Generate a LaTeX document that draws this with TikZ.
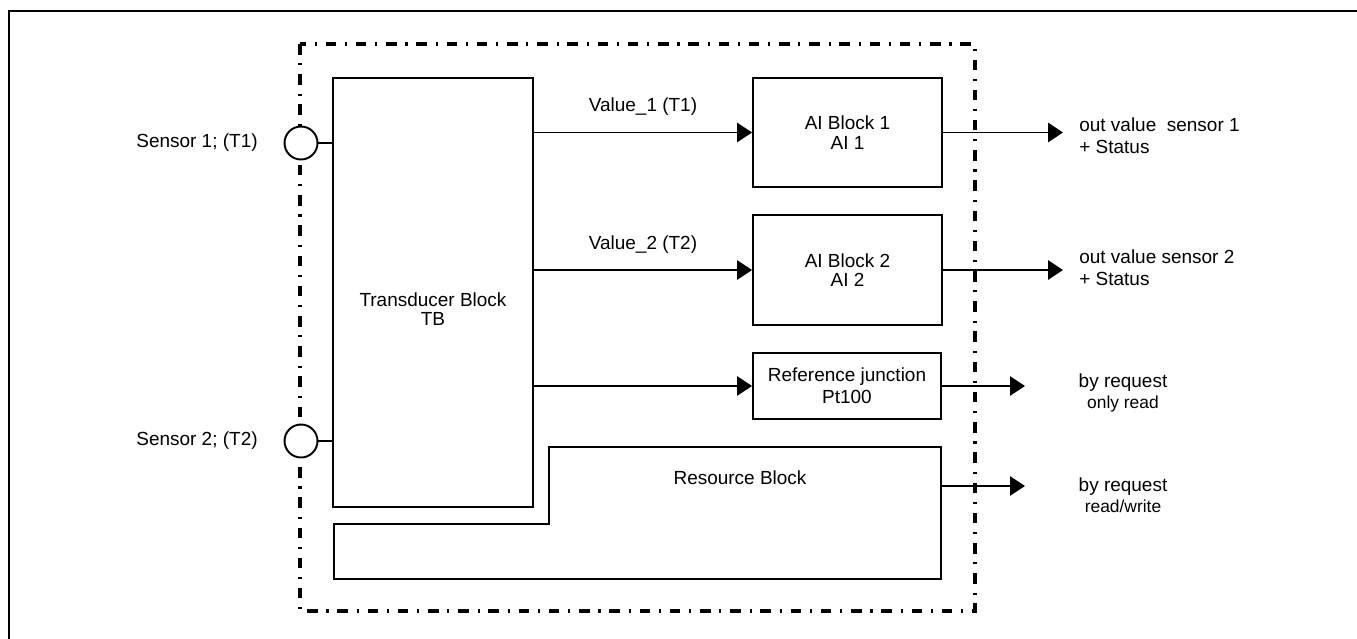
\documentclass[tikz,border=0pt]{standalone}
\usepackage{fontspec}
\setmainfont{Liberation Sans}
\usetikzlibrary{arrows.meta, positioning}

\tikzset{
  block/.style={draw, line width=1.1pt, minimum width=3.78cm, align=center, inner sep=0pt},
  sig/.style={line width=0.9pt, -{Triangle[length=8.5pt,width=11pt]}},
  req/.style={line width=0.6pt, -{Triangle[length=8.5pt,width=11pt]}},
  sensor/.style={draw, circle, fill=white, line width=1.1pt, minimum size=0.66cm, inner sep=0pt},
  housing/.style={line width=1.8pt, dash pattern=on 6pt off 5pt on 1.2pt off 5pt},
  txt/.style={font=\fontsize{10.8}{11}\selectfont, align=center, inner sep=0pt},
  smalltxt/.style={font=\fontsize{9.9}{11}\selectfont}
}

\begin{document}
\begin{tikzpicture}[x=0.02cm, y=-0.02cm]
	\useasboundingbox (0,0) rectangle (1357,639);
	% page frame (top and left only)
	\draw[line width=1.2pt] (1357,11) -- (9,11) -- (9,639);
	% device housing
	\draw[housing] (300,44) rectangle (975,611);

	\node[sensor] (s1) at (301,143) {};
	\node[sensor] (s2) at (301,441) {};
	\node[txt, anchor=east] (s1lbl) at (258,143) {Sensor 1; (T1)};
	\node[txt, anchor=east] (s2lbl) at (258,441) {Sensor 2; (T2)};

	\node[draw, line width=1.1pt, minimum width=4cm, minimum height=8.58cm] (tb) at (433,292.5) {};
	\node[txt, font=\fontsize{10.8}{10.4}\selectfont] (tblbl) at (433,309) {Transducer Block\\TB};

	\node[block, txt, minimum height=2.18cm] (ai1) at (847.5,132.5) {AI Block 1\\AI 1};
	\node[block, txt, minimum height=2.2cm] (ai2) at (847.5,270) {AI Block 2\\AI 2};
	\node[block, txt, minimum width=3.76cm, minimum height=1.32cm, font=\fontsize{10.8}{12.5}\selectfont] (ref) at (847,386) {Reference junction\\Pt100};

	% resource block
	\draw[line width=1.1pt] (334,579) -- (334,524) -- (549,524) -- (549,447) -- (941,447) -- (941,579) -- cycle;
	\node[txt] (res) at (740,478) {Resource Block};

	\draw[line width=0.7pt] (s1.east) -- (s1.east -| tb.west);
	\draw[line width=0.7pt] (s2.east) -- (s2.east -| tb.west);

	\draw[sig] (tb.east |- ai1.west) -- node[txt, above=9pt] (v1) {Value\_1 (T1)} (ai1.west);
	\draw[sig] (tb.east |- ai2.west) -- node[txt, above=9pt] (v2) {Value\_2 (T2)} (ai2.west);
	\draw[sig] (tb.east |- ref.west) -- (ref.west);

	\coordinate (ai1out) at (1063,132.5);
	\coordinate (ai2out) at (1063,270);
	\coordinate (refout) at (1025,386);
	\coordinate (resE) at (941,486);
	\coordinate (resout) at (1025,486);

	\draw[sig, line width=1.1pt] (ai1.east) -- (ai1out);
	\draw[sig, line width=1.1pt] (ai2.east) -- (ai2out);
	\draw[req] (ref.east) -- (refout);
	\draw[req] (resE) -- (resout);

	\node[txt, align=left, anchor=west, font=\fontsize{10.8}{12.5}\selectfont] (o1) at (1079,136) {out value~ sensor 1\\+ Status};
	\node[txt, align=left, anchor=west, font=\fontsize{10.8}{12.5}\selectfont] (o2) at (1079,268) {out value sensor 2\\+ Status};
	\node[txt, font=\fontsize{10.8}{12}\selectfont] (r1) at (1123,393) {by request\\{\fontsize{9.9}{11}\selectfont only read}};
	\node[txt, font=\fontsize{10.8}{12}\selectfont] (r2) at (1123,495) {by request\\{\fontsize{9.9}{11}\selectfont read/write}};
\end{tikzpicture}
\end{document}
